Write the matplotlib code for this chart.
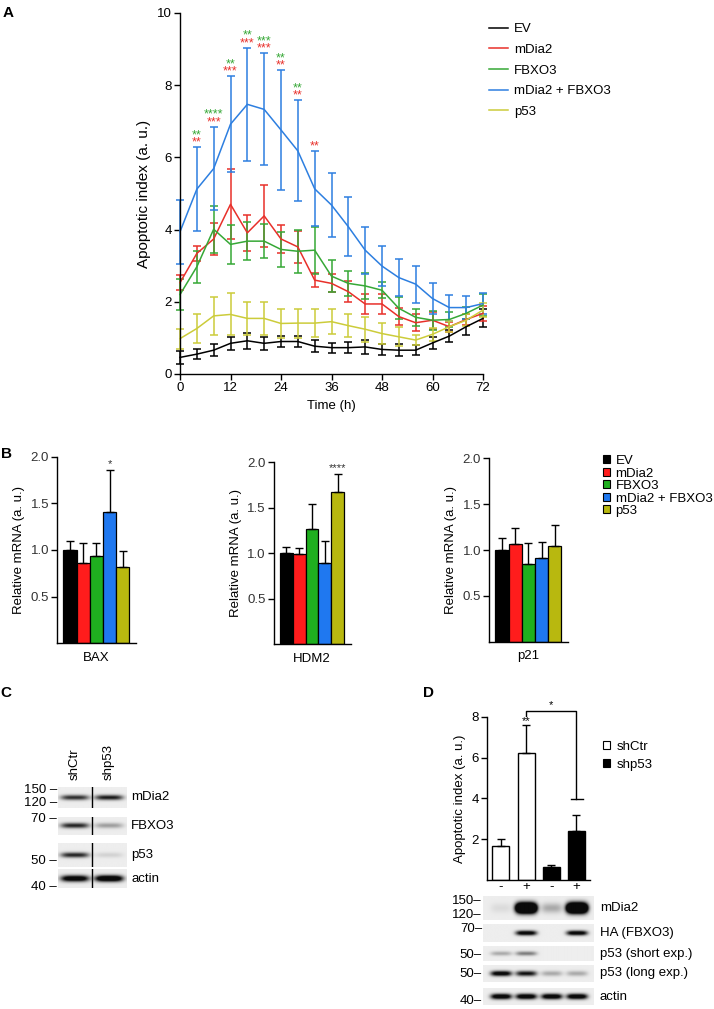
import numpy as np
import matplotlib.pyplot as plt
from matplotlib.patches import Patch
from matplotlib.lines import Line2D

W, H = 714, 1009
plt.rcParams['font.family'] = ['Liberation Sans', 'DejaVu Sans']
plt.rcParams['font.size'] = 9.5
plt.rcParams['axes.linewidth'] = 1.0
plt.rcParams['xtick.major.width'] = 1.0
plt.rcParams['ytick.major.width'] = 1.0

# ---- panel A data (time course) ----
hours = [0, 4, 8, 12, 16, 20, 24, 28, 32, 36, 40, 44, 48, 52, 56, 60, 64, 68, 72]
groups = ['EV', 'mDia2', 'FBXO3', 'mDia2 + FBXO3', 'p53']
ev_mean = [0.46, 0.55, 0.66, 0.85, 0.92, 0.85, 0.90, 0.90, 0.77, 0.73, 0.73, 0.75, 0.68, 0.66, 0.66, 0.86, 1.05, 1.31, 1.54]
ev_err = [0.17, 0.14, 0.16, 0.18, 0.22, 0.18, 0.15, 0.16, 0.16, 0.14, 0.15, 0.19, 0.16, 0.16, 0.13, 0.16, 0.17, 0.22, 0.25]
mdia2_mean = [2.53, 3.34, 3.74, 4.70, 3.91, 4.38, 3.74, 3.52, 2.60, 2.51, 2.28, 1.94, 1.94, 1.59, 1.42, 1.49, 1.31, 1.51, 1.68]
mdia2_err = [0.20, 0.20, 0.45, 0.97, 0.50, 0.85, 0.40, 0.45, 0.20, 0.25, 0.29, 0.28, 0.28, 0.24, 0.24, 0.23, 0.14, 0.16, 0.20]
fbxo3_mean = [2.20, 2.97, 4.01, 3.59, 3.68, 3.68, 3.45, 3.40, 3.43, 2.71, 2.51, 2.44, 2.32, 1.82, 1.57, 1.49, 1.51, 1.68, 1.91]
fbxo3_err = [0.42, 0.45, 0.65, 0.55, 0.53, 0.47, 0.48, 0.60, 0.65, 0.44, 0.35, 0.35, 0.22, 0.30, 0.23, 0.26, 0.20, 0.17, 0.30]
combo_mean = [3.94, 5.12, 5.69, 6.92, 7.47, 7.33, 6.76, 6.18, 5.13, 4.68, 4.08, 3.43, 2.99, 2.67, 2.49, 2.09, 1.84, 1.84, 1.95]
combo_err = [0.88, 1.16, 1.15, 1.33, 1.56, 1.55, 1.65, 1.40, 1.04, 0.88, 0.82, 0.65, 0.55, 0.52, 0.51, 0.42, 0.36, 0.32, 0.29]
p53_mean = [0.98, 1.26, 1.61, 1.65, 1.54, 1.54, 1.40, 1.41, 1.41, 1.45, 1.34, 1.24, 1.12, 1.03, 0.94, 1.10, 1.31, 1.49, 1.77]
p53_err = [0.28, 0.40, 0.52, 0.58, 0.46, 0.46, 0.40, 0.40, 0.39, 0.35, 0.32, 0.35, 0.29, 0.26, 0.13, 0.18, 0.15, 0.16, 0.20]
star_hours = [4, 8, 12, 16, 20, 24, 28, 32]
stars_vs_mdia2 = ['**', '***', '***', '***', '***', '**', '**', '**']
stars_vs_fbxo3 = ['**', '****', '**', '**', '***', '**', '**', '']

# ---- panel B data (qPCR) ----
genes = ['BAX', 'HDM2', 'p21']
bax_mean = [1.00, 0.86, 0.94, 1.41, 0.82]
bax_err = [0.10, 0.21, 0.13, 0.45, 0.17]
hdm2_mean = [1.00, 0.99, 1.27, 0.89, 1.67]
hdm2_err = [0.07, 0.07, 0.27, 0.25, 0.20]
p21_mean = [1.00, 1.07, 0.85, 0.91, 1.04]
p21_err = [0.13, 0.17, 0.23, 0.18, 0.23]
b_stars = ['*', '****', '']

# ---- panel C blots ----
c_lanes = ['shCtr', 'shp53']
c_blots = ['mDia2', 'FBXO3', 'p53', 'actin']
c_bands = [[0.85, 0.95], [0.9, 0.35], [0.9, 0.12], [1.3, 1.5]]
c_markers = ['150', '120', '70', '50', '40']

# ---- panel D data ----
d_groups = ['shCtr', 'shp53']
d_treat = ['-', '+', '-', '+']
d_mean = [1.67, 6.21, 0.62, 2.42]
d_err = [0.34, 1.36, 0.10, 0.76]
d_blots = ['mDia2', 'HA (FBXO3)', 'p53 (short exp.)', 'p53 (long exp.)', 'actin']
d_bands = [[0.08, 3.0, 0.3, 3.0], [0.0, 1.2, 0.0, 1.2], [0.3, 0.5, 0.0, 0.0],
           [1.2, 1.0, 0.3, 0.3], [1.3, 1.3, 1.3, 1.3]]
d_markers = ['150', '120', '70', '50', '50', '40']

line_colors = ['#000000', '#e8302a', '#36a836', '#2d7fe0', '#cccc3a']
bar_colors = ['#000000', '#ff1c1c', '#1faf1f', '#1f78f0', '#b8b80f']

fig = plt.figure(figsize=(W / 100, H / 100), dpi=100)


def px_axes(l, t, r, b):
    return fig.add_axes([l / W, 1 - b / H, (r - l) / W, (b - t) / H])


def fig_xy(x, y):
    return x / W, 1 - y / H


def clean(ax):
    ax.spines['top'].set_visible(False)
    ax.spines['right'].set_visible(False)
    ax.tick_params(direction='out', length=4, pad=2)


# ================= A =================
axA = px_axes(180, 13, 483, 374)
series = [(ev_mean, ev_err), (mdia2_mean, mdia2_err), (fbxo3_mean, fbxo3_err),
          (combo_mean, combo_err), (p53_mean, p53_err)]
for (m, e), c in zip(series, line_colors):
    eb = axA.errorbar(hours, m, yerr=e, color=c, lw=1.1, elinewidth=1.1,
                      capsize=2.9, capthick=1.1)
    eb[0].set_clip_on(False)
    for art in list(eb[1]) + list(eb[2]):
        art.set_clip_on(False)
axA.set_xlim(0, 72)
axA.set_ylim(0, 10)
axA.set_xticks(range(0, 73, 12))
axA.set_yticks(range(0, 11, 2))
clean(axA)
axA.set_xlabel('Time (h)')
axA.set_ylabel('Apoptotic index (a. u.)', fontsize=11)
for h, s_red, s_green in zip(star_hours, stars_vs_mdia2, stars_vs_fbxo3):
    i = hours.index(h)
    top = combo_mean[i] + combo_err[i]
    axA.annotate(s_red, (h, top), xytext=(0, 3.5), textcoords='offset points',
                 ha='center', va='center', color='#e8302a', fontsize=9)
    if s_green:
        axA.annotate(s_green, (h, top), xytext=(0, 8.8), textcoords='offset points',
                     ha='center', va='center', color='#36a836', fontsize=9)
handles = [Line2D([], [], color=c, lw=1.1) for c in line_colors]
fig.legend(handles, groups, loc='upper left', bbox_to_anchor=fig_xy(489, 23),
           frameon=False, handlelength=1.45, handletextpad=0.45,
           labelspacing=0.64, borderpad=0, borderaxespad=0)

# ================= B =================
b_rects = [(57.3, 456.7, 136.0, 643.3), (274.0, 462.3, 350.5, 644.3), (489.3, 458.3, 567.9, 641.7)]
b_data = [(bax_mean, bax_err), (hdm2_mean, hdm2_err), (p21_mean, p21_err)]
for rect, (m, e), gene, star in zip(b_rects, b_data, genes, b_stars):
    ax = px_axes(*rect)
    x = np.arange(len(m))
    ax.bar(x, m, width=1.0, color=bar_colors, edgecolor='black', linewidth=0.9,
           yerr=[np.zeros(len(e)), e], error_kw=dict(elinewidth=1.0, capsize=2.6, capthick=1.0, ecolor='black'))
    ax.set_xlim(-0.96, 5.0)
    ax.set_ylim(0, 2.0)
    ax.set_yticks([0.5, 1.0, 1.5, 2.0])
    ax.set_yticklabels(['0.5', '1.0', '1.5', '2.0'], color='#333333')
    ax.set_xticks([])
    clean(ax)
    ax.set_xlabel(gene, labelpad=6)
    ax.set_ylabel('Relative mRNA (a. u.)')
    if star:
        k = int(np.argmax(m))
        ax.annotate(star, (k, m[k] + e[k]), xytext=(0, 4), textcoords='offset points',
                    ha='center', va='center', fontsize=8, color='#333333')
b_handles = [Patch(facecolor=c, edgecolor='black', linewidth=0.8) for c in bar_colors]
fig.legend(b_handles, groups, loc='upper left', bbox_to_anchor=fig_xy(603, 455),
           frameon=False, handlelength=0.55, handleheight=0.55, handletextpad=0.4,
           labelspacing=0.04, borderpad=0, borderaxespad=0)


# ================= blots =================
def blot(l, t, r, b, centers, levels, half_w, half_h, bg=0.93):
    ax = px_axes(l, t, r, b)
    xx = np.linspace(l, r, int((r - l) * 4))
    yy = np.linspace(t, b, int((b - t) * 4))
    X, Y = np.meshgrid(xx, yy)
    yc = (t + b) / 2
    dens = np.zeros_like(X)
    for xc, a in zip(centers, levels):
        dens += a * np.exp(-np.abs((X - xc) / half_w) ** 4) * np.exp(-((Y - yc) / half_h) ** 2)
    img = bg - (bg - 0.04) * np.clip(dens, 0, 1)
    ax.imshow(img, cmap='gray', vmin=0, vmax=1, extent=(l, r, b, t),
              aspect='auto', interpolation='bilinear')
    ax.set_xlim(l, r)
    ax.set_ylim(b, t)
    ax.axis('off')
    return ax


# ================= C =================
c_lane_x = [75.0, 109.0]
c_strips = [(787, 808, 2.6), (816.7, 835, 2.6), (843, 866.7, 2.6), (869, 888, 3.2)]
for (t, b, hh), name, lev in zip(c_strips, c_blots, c_bands):
    ax = blot(58.3, t, 126.7, b, c_lane_x, lev, 14, hh)
    ax.axvline(91.7, color='black', lw=1.0)
    fig.text(*fig_xy(131, (t + b) / 2), name, ha='left', va='center')
for x, lane in zip(c_lane_x, c_lanes):
    fig.text(*fig_xy(x, 780), lane, rotation=90, ha='center', va='bottom')
for lab, y in zip(c_markers, [790, 803.3, 819, 861, 886.7]):
    fig.text(*fig_xy(57, y), lab + ' \u2013', ha='right', va='center')

# ================= D =================
axD = px_axes(487.3, 716.7, 590, 880)
xd = np.arange(len(d_mean))
axD.bar(xd, d_mean, width=0.68, color=['white', 'white', 'black', 'black'],
        edgecolor='black', linewidth=1.0,
        yerr=[np.zeros(len(d_err)), d_err], error_kw=dict(elinewidth=1.0, capsize=3.2, capthick=1.0))
axD.set_xlim(-0.54, 3.54)
axD.set_ylim(0, 8)
axD.set_yticks([2, 4, 6, 8])
axD.set_xticks(xd)
axD.set_xticklabels(d_treat)
clean(axD)
axD.tick_params(axis='x', length=0, pad=1)
axD.set_ylabel('Apoptotic index (a. u.)')
axD.plot([1, 1, 3, 3], [8.05, 8.3, 8.3, 3.97], color='black', lw=1.0, clip_on=False)
axD.plot([2.77, 3.27], [3.97, 3.97], color='black', lw=1.0, clip_on=False)
axD.annotate('**', (1, d_mean[1] + d_err[1]), xytext=(0, 3.5), textcoords='offset points',
             ha='center', va='center', fontsize=8)
axD.annotate('*', (2, 8.3), xytext=(0, 4), textcoords='offset points',
             ha='center', va='center', fontsize=8, annotation_clip=False)
d_handles = [Patch(facecolor=c, edgecolor='black', linewidth=0.8) for c in ['white', 'black']]
fig.legend(d_handles, d_groups, loc='upper left', bbox_to_anchor=fig_xy(603, 741),
           frameon=False, handlelength=0.55, handleheight=0.55, handletextpad=0.45,
           labelspacing=0.43, borderpad=0, borderaxespad=0)

d_lane_x = [500.8, 525.8, 551.3, 576.5]
d_strips = [(896, 920, 5.0), (924, 941.7, 2.4), (946, 961, 2.2), (965, 981.7, 2.6), (988, 1005, 2.8)]
for (t, b, hh), name, lev in zip(d_strips, d_blots, d_bands):
    blot(482.7, t, 593.3, b, d_lane_x, lev, 10.5, hh)
    fig.text(*fig_xy(600, (t + b) / 2), name, ha='left', va='center')
for lab, y in zip(d_markers, [900.7, 915, 929, 955, 974.3, 1000.7]):
    fig.text(*fig_xy(482, y), lab + '\u2013', ha='right', va='center')

# panel letters
for letter, x, y in [('A', 8, 13), ('B', 7, 454), ('C', 6, 693), ('D', 429, 693)]:
    fig.text(*fig_xy(x, y), letter, fontsize=11, fontweight='bold', ha='center', va='center')

fig.savefig('out.png', dpi=100)
